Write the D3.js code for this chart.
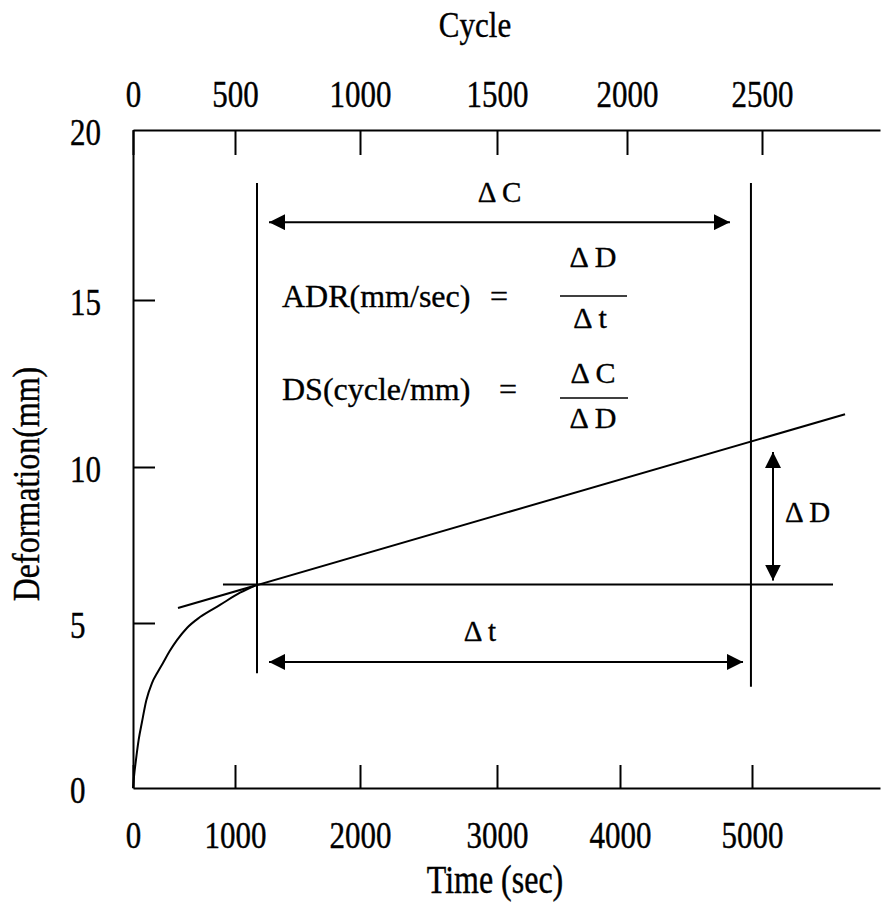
<!DOCTYPE html>
<html>
<head>
<meta charset="utf-8">
<script src="https://cdn.jsdelivr.net/npm/d3@7"></script>
<style>
  html, body { margin: 0; padding: 0; background: #fff; }
  svg { display: block; }
  text { font-family: "Liberation Serif", "Times New Roman", Times, "DejaVu Serif", serif; fill: #000; stroke: #000; stroke-width: 0.35px; }
</style>
</head>
<body>
<svg id="chart" width="885" height="908"></svg>
<script>
// ---------- data ----------
const timeTicks  = [0, 1000, 2000, 3000, 4000, 5000];
const cycleTicks = [0, 500, 1000, 1500, 2000, 2500];
const defTicks   = [0, 5, 10, 15, 20];

// deformation curve (time in sec, deformation in mm)
const curveTime = [0, 10, 29, 55, 88, 130, 186, 240, 294, 360, 431, 529, 657, 853, 1040, 1176];
const curveDef  = [0, 0.35, 0.85, 1.45, 2.0, 2.65, 3.18, 3.5, 3.79, 4.15, 4.48, 4.85, 5.19, 5.58, 5.97, 6.23];

// tangent (secondary stage) line
const tangentTime = [441, 5705];
const tangentDef  = [5.48, 11.58];

// horizontal reference line
const baseTime = [882, 5614];
const baseDef  = [6.23, 6.23];

// vertical marker lines
const vLineTime = [1176, 4992];
const vLineTop  = [18.44, 18.44];
const vLineBot  = [3.48, 3.07];

// double-headed arrows
const arrowC = { time: [1272, 4833], def: [17.29, 17.29] };
const arrowT = { time: [1272, 4932], def: [3.82, 3.82] };
const arrowD = { time: [5159, 5159], def: [10.45, 6.36] };

// ---------- scales (calibrated to the scanned axes) ----------
const x = d3.scaleLinear()
  .domain([0, 1000, 2000, 3000, 4000, 5000, 5970])
  .range([133, 235, 360, 497, 620, 752, 880]);
const xc = d3.scaleLinear()
  .domain([0, 500, 1000, 1500, 2000, 2500, 2960])
  .range([133, 235, 360, 497, 627, 762, 880]);
const y = d3.scaleLinear()
  .domain([0, 5, 10, 15, 20])
  .range([788, 623, 467, 300, 130]);

const svg = d3.select("#chart");
const SY = 1.22;   // vertical stretch of the scanned lettering
const FS = 31;
const FONT = '"Liberation Serif", "Times New Roman", Times, "DejaVu Serif", serif';

// arrow marker
svg.append("defs").append("marker")
  .attr("id", "ah")
  .attr("viewBox", "0 0 16 16")
  .attr("refX", 16).attr("refY", 8)
  .attr("markerWidth", 16).attr("markerHeight", 16)
  .attr("markerUnits", "userSpaceOnUse")
  .attr("orient", "auto-start-reverse")
  .append("path").attr("d", "M0,0 L16,8 L0,16 Z").attr("fill", "#000");

// ---------- axes ----------
const gB = svg.append("g").attr("transform", `translate(0,${y(0)})`)
  .call(d3.axisBottom(x).tickValues(timeTicks).tickSizeInner(-23).tickSizeOuter(0).tickFormat(d3.format("d")));
gB.selectAll("text").attr("y", 60 / SY).attr("dy", 0).attr("transform", `scale(1,${SY})`);

const gT = svg.append("g").attr("transform", `translate(0,${y(20)})`)
  .call(d3.axisTop(xc).tickValues(cycleTicks).tickSizeInner(-25).tickSizeOuter(0).tickFormat(d3.format("d")));
gT.selectAll("text").attr("y", -23 / SY).attr("dy", 0).attr("transform", `scale(1,${SY})`);

const gL = svg.append("g").attr("transform", `translate(${x(0)},0)`)
  .call(d3.axisLeft(y).tickValues(defTicks).tickSizeInner(-22).tickSizeOuter(0).tickFormat(d3.format("d")));
gL.selectAll("text").attr("x", -63).attr("text-anchor", "start")
  .attr("y", 14 / SY).attr("dy", 0).attr("transform", `scale(1,${SY})`);

[gB, gT, gL].forEach(g => {
  g.attr("font-family", null).attr("font-size", null);
  g.selectAll("path.domain").attr("stroke", "#000").attr("stroke-width", 2);
  g.selectAll(".tick line").attr("stroke", "#000").attr("stroke-width", 2);
  g.selectAll("text").style("font-family", FONT)
    .style("font-size", FS + "px").attr("fill", "#000");
});
gL.selectAll(".tick").filter(d => d === 0 || d === 20).select("line").remove();

// axis titles
svg.append("text").attr("text-anchor", "middle")
  .attr("transform", `translate(475,37) scale(1,1.17)`)
  .style("font-family", FONT).style("font-size", FS + "px").text("Cycle");
svg.append("text").attr("text-anchor", "middle")
  .attr("transform", `translate(495,893) scale(1,${SY})`)
  .style("font-family", FONT).style("font-size", "32px").text("Time (sec)");
svg.append("text").attr("text-anchor", "middle")
  .attr("transform", `translate(39,484) rotate(-90) scale(1,1.19)`)
  .style("font-family", FONT).style("font-size", "32px").text("Deformation(mm)");

// ---------- marks ----------
const line = d3.line().x(d => x(d[0])).y(d => y(d[1]));

svg.append("path")
  .datum(d3.zip(curveTime, curveDef))
  .attr("d", line.curve(d3.curveMonotoneX))
  .attr("fill", "none").attr("stroke", "#000").attr("stroke-width", 2);

const straight = d3.line().x(d => x(d[0])).y(d => y(d[1]));
function seg(ts, ds, marker) {
  const p = svg.append("path")
    .datum(d3.zip(ts, ds))
    .attr("d", straight)
    .attr("fill", "none").attr("stroke", "#000").attr("stroke-width", 2);
  if (marker) p.attr("marker-start", "url(#ah)").attr("marker-end", "url(#ah)");
  return p;
}
seg(tangentTime, tangentDef);
seg(baseTime, baseDef);
vLineTime.forEach((t, i) => seg([t, t], [vLineBot[i], vLineTop[i]]));
seg(arrowC.time, arrowC.def, true);
seg(arrowT.time, arrowT.def, true);
seg(arrowD.time, arrowD.def, true);

// ---------- annotation text ----------
function txt(px, py, s, size, anchor) {
  return svg.append("text").attr("x", px).attr("y", py)
    .attr("text-anchor", anchor || "start")
    .style("font-family", FONT).style("font-size", size + "px").text(s);
}
txt((x(arrowC.time[0]) + x(arrowC.time[1])) / 2, y(arrowC.def[0]) - 20, "Δ C", 29, "middle");
txt(480, y(arrowT.def[0]) - 21, "Δ t", 29, "middle");
txt(x(arrowD.time[0]) + 12, 522, "Δ D", 29, "start");

txt(282, 307, "ADR(mm/sec)", 32, "start");
txt(499, 307, "=", 32, "middle");
txt(593, 267, "Δ D", 30, "middle");
svg.append("line").attr("x1", 560).attr("x2", 627).attr("y1", 296).attr("y2", 296)
  .attr("stroke", "#000").attr("stroke-width", 1.6);
txt(590, 328, "Δ t", 30, "middle");

txt(282, 400, "DS(cycle/mm)", 32, "start");
txt(508, 400, "=", 32, "middle");
txt(593, 383, "Δ C", 30, "middle");
svg.append("line").attr("x1", 560).attr("x2", 628).attr("y1", 398).attr("y2", 398)
  .attr("stroke", "#000").attr("stroke-width", 1.6);
txt(593, 428, "Δ D", 30, "middle");
</script>
</body>
</html>
